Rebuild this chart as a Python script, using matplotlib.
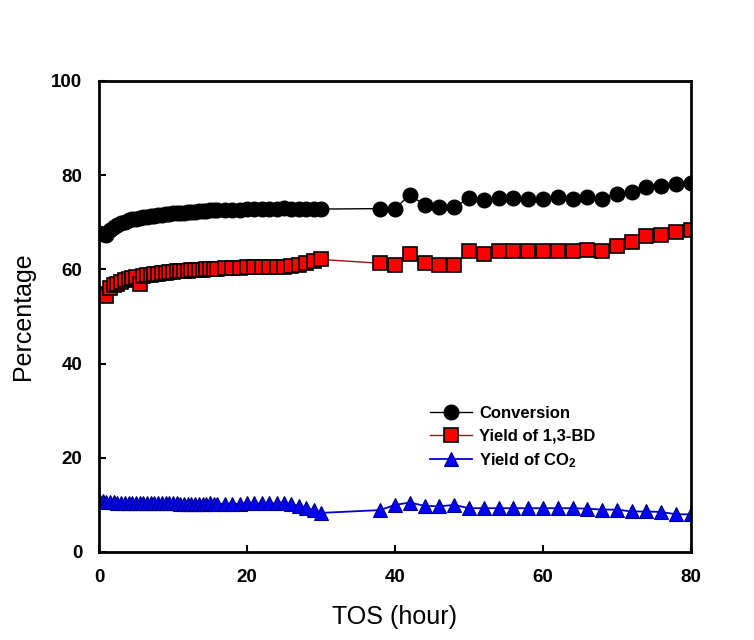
import numpy as np
import matplotlib
matplotlib.use("Agg")
import matplotlib.pyplot as plt

# ---------------------------------------------------------------------------
# Datos
# ---------------------------------------------------------------------------
tos = [0, 0.5, 1, 1.5, 2, 2.5, 3, 3.5, 4, 4.5, 5, 5.5, 6, 6.5, 7, 7.5, 8, 8.5,
       9, 9.5, 10, 10.5, 11, 11.5, 12, 12.5, 13, 13.5, 14, 14.5, 15, 15.5, 16,
       17, 18, 19, 20, 21, 22, 23, 24, 25, 26, 27, 28, 29, 30,
       38, 40, 42, 44, 46, 48, 50, 52, 54, 56, 58, 60, 62, 64, 66, 68, 70,
       72, 74, 76, 78, 80]

conversion = [67.7, 67.5, 67.4, 68.3, 68.9, 69.4, 69.8, 70.1, 70.4, 70.6, 70.8,
              71.0, 71.1, 71.2, 71.3, 71.4, 71.5, 71.6, 71.7, 71.8, 71.9, 71.9,
              72.0, 72.0, 72.1, 72.2, 72.2, 72.3, 72.3, 72.4, 72.5, 72.5, 72.6,
              72.6, 72.7, 72.7, 72.8, 72.8, 72.9, 72.9, 72.9, 73.0, 72.9, 72.9,
              72.8, 72.8, 72.8,
              72.9, 72.9, 75.8, 73.7, 73.2, 73.2, 75.1, 74.8, 75.1, 75.1, 75.0,
              75.0, 75.4, 75.0, 75.3, 75.0, 76.1, 76.5, 77.4, 77.6, 78.2, 78.3]

yield_bd = [54.6, 54.8, 54.3, 56.0, 56.6, 57.0, 57.4, 57.8, 58.0, 58.2, 58.3,
            56.9, 58.5, 58.7, 58.8, 59.0, 59.1, 59.2, 59.3, 59.4, 59.5, 59.6,
            59.6, 59.7, 59.7, 59.8, 59.8, 59.9, 59.9, 60.0, 60.0, 60.1, 60.1,
            60.2, 60.3, 60.3, 60.4, 60.4, 60.5, 60.4, 60.5, 60.6, 60.8, 61.0,
            61.3, 61.8, 62.1,
            61.3, 60.9, 63.3, 61.4, 60.9, 60.9, 63.8, 63.3, 63.8, 64.0, 63.8,
            63.8, 64.0, 64.0, 64.2, 64.0, 65.0, 65.9, 67.0, 67.2, 68.0, 68.4]

yield_co2 = [11.0, 10.8, 10.7, 10.6, 10.6, 10.5, 10.5, 10.5, 10.4, 10.4, 10.4,
             10.4, 10.4, 10.3, 10.3, 10.3, 10.3, 10.3, 10.3, 10.3, 10.3, 10.3,
             10.2, 10.2, 10.2, 10.2, 10.2, 10.2, 10.2, 10.2, 10.3, 10.2, 10.2,
             10.2, 10.2, 10.2, 10.3, 10.3, 10.3, 10.3, 10.3, 10.3, 10.2, 9.7,
             9.3, 8.9, 8.3,
             8.9, 10.0, 10.5, 9.8, 9.7, 10.0, 9.3, 9.3, 9.3, 9.3, 9.3,
             9.3, 9.3, 9.3, 9.2, 9.0, 9.0, 8.6, 8.6, 8.5, 8.0, 8.0]

series_labels = ["Conversion", "Yield of 1,3-BD", "Yield of CO$_2$"]
x_ticks = [0, 20, 40, 60, 80]
y_ticks = [0, 20, 40, 60, 80, 100]

# ---------------------------------------------------------------------------
# Gráfico
# ---------------------------------------------------------------------------
plt.rcParams['font.family'] = ['Liberation Sans', 'DejaVu Sans']
plt.rcParams['mathtext.fontset'] = 'custom'
plt.rcParams['mathtext.rm'] = 'Liberation Sans:bold'
plt.rcParams['mathtext.it'] = 'Liberation Sans:bold'

fig = plt.figure(figsize=(7.54, 6.4), dpi=100)
ax = fig.add_axes([0.1313, 0.1375, 0.785, 0.736])

ax.plot(tos, conversion, color='black', lw=1, marker='o', ms=10.5,
        mfc='black', mec='black', label=series_labels[0])
ax.plot(tos, yield_bd, color='#a01010', lw=1, marker='s', ms=9.5,
        mfc='#ff0000', mec='black', mew=1.2, label=series_labels[1])
ax.plot(tos, yield_co2, color='#0000cc', lw=1.3, marker='^', ms=9.5,
        mfc='#0000ff', mec='#00007a', mew=0.8, label=series_labels[2])

ax.set_xlim(0, 80)
ax.set_ylim(0, 100)
ax.set_xticks(x_ticks)
ax.set_yticks(y_ticks)
ax.tick_params(direction='in', length=5, width=1.5, labelsize=13.5, pad=12)
for lbl in ax.get_xticklabels() + ax.get_yticklabels():
    lbl.set_fontweight('bold')
for sp in ax.spines.values():
    sp.set_linewidth(2)

ax.set_xlabel('TOS (hour)', fontsize=18, labelpad=14)
ax.set_ylabel('Percentage', fontsize=18, labelpad=12)

leg = ax.legend(loc='center left', bbox_to_anchor=(0.545, 0.242), frameon=False,
                prop={'weight': 'bold', 'size': 12}, handlelength=2.5,
                handletextpad=0.45, labelspacing=0.45, borderpad=0)

fig.savefig('out.png', dpi=100)
